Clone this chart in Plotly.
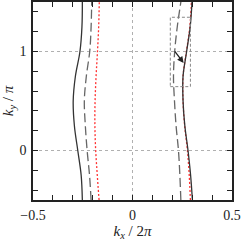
import plotly.graph_objects as go

ky = [-0.5, -0.25, 0.0, 0.25, 0.5, 0.75, 1.0, 1.25, 1.5]

left_solid = [-0.252, -0.258, -0.275, -0.292, -0.298, -0.287, -0.264, -0.254, -0.252]
left_dash = [-0.208, -0.216, -0.228, -0.237, -0.242, -0.232, -0.215, -0.208, -0.205]
left_dot = [-0.168, -0.177, -0.185, -0.189, -0.188, -0.183, -0.176, -0.170, -0.167]

right_solid = [0.301, 0.292, 0.279, 0.263, 0.254, 0.254, 0.272, 0.290, 0.299]
right_dash = [0.243, 0.238, 0.231, 0.219, 0.211, 0.206, 0.212, 0.225, 0.243]
right_dot = [0.291, 0.285, 0.276, 0.262, 0.254, 0.254, 0.271, 0.288, 0.296]

box_x = [0.19, 0.291]
box_y = [0.645, 1.346]
arrow_tail = [0.207, 1.017]
arrow_head = [0.257, 0.883]

x_ticks = [-0.5, 0, 0.5]
x_ticktext = ["\u22120.5", "0", "0.5"]
y_ticks = [0, 1]
y_ticktext = ["0", "1"]

fig = go.Figure()

styles = {
    "solid": dict(color="#333333", width=1.3, dash="solid"),
    "dash": dict(color="#666666", width=1.3, dash="9px,4px"),
    "dot": dict(color="#ff3333", width=1.3, dash="2px,2px"),
}

for xs, st in [(left_solid, "solid"), (left_dash, "dash"), (left_dot, "dot"),
               (right_dash, "dash"), (right_dot, "dot"), (right_solid, "solid")]:
    fig.add_trace(go.Scatter(x=xs, y=ky, mode="lines", line=styles[st],
                             line_shape="spline", showlegend=False, hoverinfo="skip"))

fig.add_shape(type="rect", xref="x", yref="y", x0=box_x[0], x1=box_x[1],
              y0=box_y[0], y1=box_y[1],
              line=dict(color="#888888", width=1, dash="3px,2px"))

fig.add_annotation(x=arrow_head[0], y=arrow_head[1], ax=arrow_tail[0], ay=arrow_tail[1],
                   xref="x", yref="y", axref="x", ayref="y", text="",
                   showarrow=True, arrowhead=2, arrowsize=1, arrowwidth=1.3,
                   arrowcolor="#222222")

axis_common = dict(
    showline=True, linecolor="#222222", linewidth=1.5, mirror="ticks",
    ticks="inside", ticklen=5, tickcolor="#222222", tickwidth=1,
    showgrid=True, gridcolor="#b0b0b0", griddash="dot", gridwidth=1,
    zeroline=False, automargin=False,
    tickfont=dict(family="Liberation Serif", size=14, color="#222222"),
)

fig.update_xaxes(range=[-0.5, 0.5], tickvals=x_ticks, ticktext=x_ticktext,
                 minor=dict(dtick=0.1, ticks="inside", ticklen=5, tickcolor="#222222", showgrid=False),
                 title=dict(text="<i>k</i><sub><i>x</i></sub> / 2<i>\u03c0</i>",
                            font=dict(family="Liberation Serif", size=15, color="#222222"),
                            standoff=2),
                 ticklabelstandoff=1,
                 **axis_common)
fig.update_yaxes(range=[-0.5, 1.5], tickvals=y_ticks, ticktext=y_ticktext,
                 minor=dict(dtick=0.2, tick0=0, ticks="inside", ticklen=5, tickcolor="#222222", showgrid=False),
                 title=dict(text="<i>k</i><sub><i>y</i></sub> / <i>\u03c0</i>",
                            font=dict(family="Liberation Serif", size=15, color="#222222"),
                            standoff=4),
                 ticklabelstandoff=2,
                 **axis_common)

fig.update_layout(
    width=243, height=245,
    margin=dict(l=33, r=11, t=2, b=45),
    plot_bgcolor="white", paper_bgcolor="white",
)

fig.write_html("out.html", config={"displayModeBar": False},
               post_script="document.body.style.margin='0';")
